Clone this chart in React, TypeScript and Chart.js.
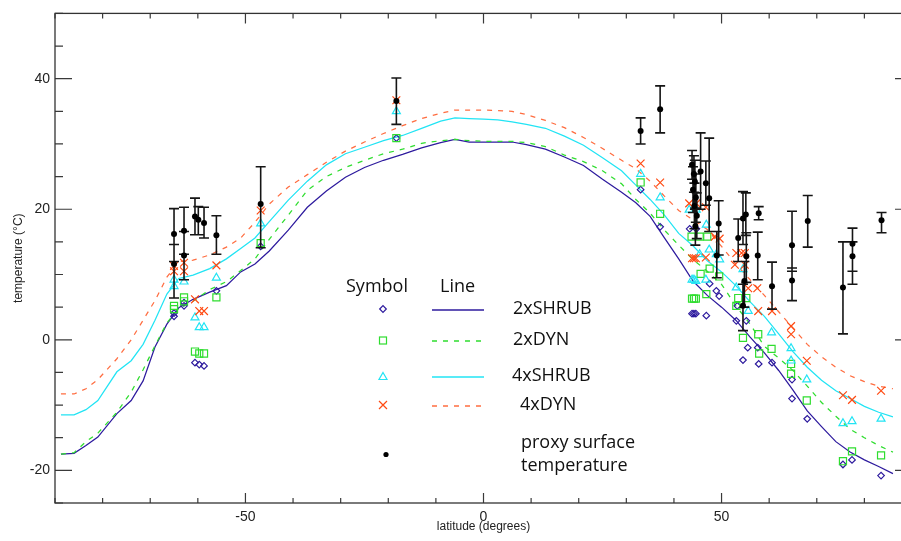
import React, { useEffect, useRef } from 'react';
import { Chart, registerables } from 'chart.js';

Chart.register(...registerables);

// ---------- data ----------
const lineLat = [-88.75, -86, -83.5, -81, -77, -74, -71.5, -69, -66.5, -64, -61, -57.5, -54, -51, -48, -45, -41, -37, -33, -29, -25, -21, -17, -13, -9, -6, -3, 0, 3, 6, 9, 13, 17, 21, 25, 29, 32, 35, 38, 41, 44, 47, 50, 53, 56, 59, 62, 65, 68, 71, 74, 77, 80, 83, 86];

const shrub2Line = [-17.5, -17.4, -16.2, -14.9, -11.3, -9.3, -6.3, -1.1, 2.4, 4.9, 6.2, 7.3, 8.3, 10.4, 11.6, 13.6, 16.8, 20.3, 22.8, 24.9, 26.4, 27.5, 28.4, 29.4, 30.2, 30.7, 30.3, 30.3, 30.3, 30.3, 29.9, 29.2, 28.0, 26.7, 24.6, 22.6, 21.0, 18.9, 15.6, 12.4, 9.0, 6.8, 5.0, 3.0, 0.4, -2.0, -4.7, -7.7, -10.9, -13.3, -15.6, -17.2, -18.4, -19.4, -20.5];
const dyn2Line = [-17.5, -17.3, -15.6, -14.3, -11.1, -8.0, -4.6, -0.9, 2.6, 4.8, 5.9, 7.7, 8.9, 10.6, 12.4, 15.4, 19.1, 22.9, 25.0, 26.4, 27.5, 28.5, 29.2, 30.1, 30.5, 30.7, 30.5, 30.4, 30.4, 30.4, 30.2, 29.6, 28.3, 27.3, 25.9, 23.9, 21.5, 19.4, 16.8, 14.5, 12.3, 10.5, 8.5, 5.2, 2.4, -1.0, -2.8, -4.7, -7.1, -9.6, -11.7, -13.7, -15.0, -16.2, -17.2];
const shrub4Line = [-11.5, -11.5, -10.7, -9.3, -4.9, -3.2, -0.7, 3.0, 7.0, 9.4, 9.9, 10.9, 12.4, 14.0, 15.6, 18.1, 21.4, 24.3, 26.8, 28.5, 29.5, 30.5, 31.3, 32.4, 33.5, 34.0, 33.9, 33.8, 33.7, 33.4, 33.0, 32.4, 31.2, 29.8, 27.9, 25.9, 23.7, 21.5, 19.1, 16.3, 14.4, 12.1, 10.4, 8.3, 5.8, 3.6, 0.9, -1.8, -4.2, -6.2, -7.8, -9.0, -10.2, -11.1, -11.8];
const dyn4Line = [-8.3, -8.3, -7.5, -6.1, -2.9, 0.0, 3.0, 6.0, 9.6, 12.0, 12.2, 13.0, 14.2, 15.6, 18.0, 20.8, 23.4, 25.3, 27.2, 28.9, 30.3, 31.6, 32.8, 33.9, 34.7, 35.2, 35.2, 35.2, 35.1, 35.0, 34.5, 33.6, 32.5, 31.0, 29.3, 27.5, 26.2, 24.3, 22.0, 19.8, 18.4, 16.9, 14.3, 11.6, 9.2, 6.8, 4.3, 1.8, -0.7, -2.6, -4.2, -5.5, -6.4, -7.1, -7.5];

// model values at proxy sites (symbols)
const shrub2Lat = [-65.0, -65.0, -62.9, -62.9, -60.6, -59.7, -58.7, -56.1, -46.8, -18.3, 33.0, 37.1, 43.3, 44.7, 43.8, 44.2, 44.6, 46.8, 47.5, 48.9, 49.5, 53.1, 55.2, 53.3, 54.5, 55.5, 57.6, 57.8, 60.6, 64.8, 64.8, 68.0, 75.5, 77.4, 83.5];
const shrub2T = [4.1, 3.6, 5.7, 5.2, -3.5, -3.8, -4.0, 7.5, 14.3, 30.9, 23.0, 17.3, 17.0, 17.0, 4.0, 4.0, 4.0, 3.7, 8.6, 7.5, 6.7, 2.9, 2.9, 5.2, -3.1, -1.2, -1.2, -3.7, -3.5, -6.1, -9.0, -12.1, -19.1, -18.4, -20.8];

const dyn2Lat = [-65.0, -65.0, -62.9, -62.9, -60.6, -59.7, -58.7, -56.1, -46.8, -18.3, 33.0, 37.1, 43.7, 45.4, 47.0, 43.8, 44.2, 44.6, 45.6, 47.5, 49.5, 46.8, 53.5, 53.1, 55.2, 54.5, 57.7, 57.9, 60.5, 64.6, 64.6, 67.9, 75.5, 77.4, 83.5];
const dyn2T = [5.2, 4.7, 6.5, 5.9, -1.8, -2.1, -2.1, 6.5, 14.8, 30.9, 24.1, 19.3, 15.8, 15.8, 15.8, 6.3, 6.3, 6.3, 10.1, 10.9, 9.7, 7.0, 6.4, 5.2, 6.4, 0.3, 0.85, -2.1, -1.4, -3.7, -5.2, -9.3, -18.6, -17.1, -17.7];

const shrub4Lat = [-65.0, -65.0, -62.9, -60.6, -59.7, -58.7, -56.1, -46.8, -18.3, 33.0, 37.1, 43.2, 44.7, 43.8, 44.2, 44.6, 45.4, 47.4, 48.9, 46.7, 46.8, 49.6, 54.5, 53.1, 55.6, 60.5, 64.6, 64.6, 67.9, 75.5, 77.4, 83.5];
const shrub4T = [9.2, 8.2, 8.9, 3.4, 1.9, 1.9, 9.5, 17.8, 35.0, 25.4, 21.8, 19.9, 19.9, 9.2, 9.2, 9.0, 13.1, 13.8, 13.1, 9.2, 17.6, 12.3, 10.8, 8.0, 4.4, 1.1, -1.3, -3.2, -6.1, -12.8, -12.5, -12.1];

const dyn4Lat = [-65.0, -65.0, -62.9, -62.9, -60.6, -59.7, -58.7, -56.1, -46.8, -18.3, 33.0, 37.1, 43.2, 44.7, 43.8, 44.2, 44.6, 46.7, 46.7, 48.6, 49.6, 53.1, 54.2, 54.9, 52.8, 54.9, 55.6, 57.5, 57.7, 60.6, 64.6, 64.6, 67.9, 75.5, 77.4, 83.5];
const dyn4T = [11.3, 10.5, 11.8, 10.5, 6.2, 4.4, 4.4, 11.4, 19.8, 36.7, 27.0, 24.1, 20.9, 20.9, 12.5, 12.5, 12.5, 20.3, 12.6, 15.8, 15.5, 13.3, 13.3, 13.3, 11.5, 11.5, 7.9, 7.9, 4.4, 4.4, 2.1, 0.85, -3.2, -8.5, -9.2, -7.8];

// proxy surface temperature with error range
const proxyLat = [-65.0, -65.0, -62.9, -62.9, -60.6, -59.9, -58.7, -56.1, -46.8, -18.3, 33.0, 37.1, 43.8, 44.2, 44.4, 44.0, 44.6, 44.3, 44.8, 44.5, 45.6, 46.7, 47.4, 49.4, 49.0, 53.5, 54.5, 55.1, 55.2, 54.8, 54.5, 57.6, 57.8, 60.6, 64.8, 64.8, 68.1, 75.5, 77.5, 77.5, 83.6];
const proxyT = [16.2, 11.6, 16.7, 12.9, 18.9, 18.4, 17.9, 16.0, 20.8, 36.6, 32.0, 35.3, 26.8, 25.4, 24.2, 23.0, 21.8, 20.5, 19.0, 17.4, 25.8, 24.0, 21.7, 17.8, 12.9, 15.6, 18.6, 19.2, 12.8, 9.0, 5.2, 12.9, 19.4, 8.2, 14.5, 9.1, 18.2, 8.0, 14.7, 12.8, 18.3];
const proxyLo = [12.0, 6.4, 13.1, 9.2, 16.1, 16.1, 15.6, 13.1, 14.1, 33.0, 30.0, 31.7, 24.6, 22.6, 20.0, 19.5, 18.0, 17.0, 15.5, 14.5, 20.0, 20.6, 16.6, 13.0, 9.5, 12.0, 14.6, 16.0, 8.8, 5.0, 1.4, 9.2, 18.4, 4.7, 10.5, 6.0, 14.2, 0.9, 10.5, 8.5, 16.4];
const proxyHi = [20.1, 14.6, 20.3, 16.6, 21.7, 20.4, 20.3, 19.0, 26.5, 40.1, 34.0, 38.9, 29.0, 28.2, 27.5, 26.5, 25.4, 24.0, 22.5, 20.2, 31.7, 27.4, 30.9, 21.3, 16.6, 18.5, 22.7, 22.5, 16.4, 12.0, 8.5, 16.5, 20.4, 11.9, 19.7, 11.0, 22.1, 15.0, 17.1, 15.0, 19.5];

const xTickLabels = [-50, 0, 50];
const yTickLabels = [-20, 0, 20, 40];
const legendLabels = ['2xSHRUB', '2xDYN', '4xSHRUB', '4xDYN'];

// ---------- styles ----------
const NAVY = '#2E1B9E';
const GREEN = '#2FDD2F';
const CYAN = '#22E4F4';
const ORANGE_LINE = '#FF6D40';
const ORANGE_MARK = '#FF4A12';
const TICK_FONT = 'Liberation Sans';
const LEGEND_FONT = 'Open Sans';

const toXY = (xs: number[], ys: number[]) => xs.map((x, i) => ({ x, y: ys[i] }));

const frameTicksPlugin = {
  id: 'frameTicks',
  afterDraw(chart: any) {
    const { ctx, chartArea: a, scales } = chart;
    const xs = scales.x;
    const ys = scales.y;
    ctx.save();
    ctx.strokeStyle = '#3a3a3a';
    ctx.lineWidth = 1.2;
    ctx.beginPath();
    for (let v = -25; v <= 50; v += 5) {
      const py = ys.getPixelForValue(v);
      const len = v % 20 === 0 ? 17 : 8;
      ctx.moveTo(a.left, py);
      ctx.lineTo(a.left + len, py);
      ctx.moveTo(a.right, py);
      ctx.lineTo(a.right - len, py);
    }
    for (let v = -90; v <= 90; v += 10) {
      const px = xs.getPixelForValue(v);
      const len = v % 50 === 0 ? 10 : 5;
      ctx.moveTo(px, a.bottom);
      ctx.lineTo(px, a.bottom - len);
      ctx.moveTo(px, a.top);
      ctx.lineTo(px, a.top + len);
    }
    ctx.stroke();
    ctx.strokeStyle = '#333';
    ctx.lineWidth = 1.3;
    ctx.strokeRect(a.left, a.top, a.right - a.left, a.bottom - a.top);
    ctx.restore();
  },
};

const errorBarPlugin = {
  id: 'errorBars',
  beforeDatasetDraw(chart: any, args: any) {
    if (args.index !== 0) return;
    const { ctx, scales } = chart;
    const xs = scales.x;
    const ys = scales.y;
    ctx.save();
    ctx.strokeStyle = '#151515';
    ctx.lineWidth = 1.6;
    ctx.beginPath();
    proxyLat.forEach((lat, i) => {
      const px = xs.getPixelForValue(lat);
      const top = ys.getPixelForValue(proxyHi[i]);
      const bot = ys.getPixelForValue(proxyLo[i]);
      ctx.moveTo(px, top);
      ctx.lineTo(px, bot);
      ctx.moveTo(px - 5, top);
      ctx.lineTo(px + 5, top);
      ctx.moveTo(px - 5, bot);
      ctx.lineTo(px + 5, bot);
    });
    ctx.stroke();
    ctx.restore();
  },
};

const legendPlugin = {
  id: 'symbolLegend',
  afterDraw(chart: any) {
    const ctx = chart.ctx;
    ctx.save();
    ctx.fillStyle = '#111';
    ctx.textBaseline = 'middle';
    ctx.textAlign = 'left';
    ctx.font = `18px "${LEGEND_FONT}"`;
    ctx.fillText('Symbol', 346, 287);
    ctx.fillText('Line', 440, 287);

    const rows = [309, 340, 376, 405];
    const labelX = [513, 513, 512, 520];
    const colors = [NAVY, GREEN, CYAN, ORANGE_LINE];
    const dashed = [false, true, false, true];
    rows.forEach((ry, i) => {
      ctx.fillStyle = '#111';
      ctx.fillText(legendLabels[i], labelX[i], ry);
      ctx.strokeStyle = colors[i];
      ctx.lineWidth = 1.3;
      ctx.setLineDash(dashed[i] ? [5, 6] : []);
      ctx.beginPath();
      ctx.moveTo(432, ry + 1);
      ctx.lineTo(484, ry + 1);
      ctx.stroke();
      ctx.setLineDash([]);
    });
    // symbols
    const sx = 383;
    ctx.lineWidth = 1.2;
    ctx.strokeStyle = NAVY;
    ctx.beginPath();
    ctx.moveTo(sx - 3.3, 309); ctx.lineTo(sx, 305.7); ctx.lineTo(sx + 3.3, 309); ctx.lineTo(sx, 312.3); ctx.closePath();
    ctx.stroke();
    ctx.strokeStyle = GREEN;
    ctx.strokeRect(sx - 3.5, 337, 7, 7);
    ctx.strokeStyle = CYAN;
    ctx.beginPath();
    ctx.moveTo(sx, 372.5); ctx.lineTo(sx + 4, 379.5); ctx.lineTo(sx - 4, 379.5); ctx.closePath();
    ctx.stroke();
    ctx.strokeStyle = ORANGE_MARK;
    ctx.beginPath();
    ctx.moveTo(sx - 4, 401); ctx.lineTo(sx + 4, 409);
    ctx.moveTo(sx + 4, 401); ctx.lineTo(sx - 4, 409);
    ctx.stroke();
    ctx.fillStyle = '#000';
    ctx.beginPath();
    ctx.arc(386, 454.5, 2.6, 0, Math.PI * 2);
    ctx.fill();
    ctx.fillStyle = '#111';
    ctx.fillText('proxy surface', 521, 443);
    ctx.fillText('temperature', 521, 466);
    ctx.restore();
  },
};

export default function App() {
  const canvasRef = useRef<HTMLCanvasElement | null>(null);

  useEffect(() => {
    if (!canvasRef.current) return;
    const lineDs = (label: string, data: number[], color: string, dash: number[]) => ({
      type: 'scatter' as const,
      label,
      data: toXY(lineLat, data),
      showLine: true,
      borderColor: color,
      backgroundColor: color,
      borderWidth: 1.25,
      borderDash: dash,
      pointRadius: 0,
      tension: 0,
    });
    const markDs = (label: string, lat: number[], t: number[], color: string, style: string, r: number) => ({
      type: 'scatter' as const,
      label,
      data: toXY(lat, t),
      showLine: false,
      pointStyle: style,
      pointRadius: r,
      pointBorderColor: color,
      pointBackgroundColor: 'rgba(0,0,0,0)',
      borderColor: color,
      backgroundColor: 'rgba(0,0,0,0)',
      pointBorderWidth: 1.2,
    });

    const chart = new Chart(canvasRef.current, {
      type: 'scatter',
      data: {
        datasets: [
          {
            type: 'scatter',
            label: 'proxy surface temperature',
            data: toXY(proxyLat, proxyT),
            pointStyle: 'circle',
            pointRadius: 3,
            pointBackgroundColor: '#000',
            pointBorderColor: '#000',
            pointBorderWidth: 0,
          } as any,
          markDs('4xDYN', dyn4Lat, dyn4T, ORANGE_MARK, 'crossRot', 5.5),
          markDs('4xSHRUB', shrub4Lat, shrub4T, CYAN, 'triangle', 4.6),
          markDs('2xDYN', dyn2Lat, dyn2T, GREEN, 'rect', 5),
          markDs('2xSHRUB', shrub2Lat, shrub2T, NAVY, 'rectRot', 3.3),
          lineDs('4xDYN line', dyn4Line, ORANGE_LINE, [5, 6]),
          lineDs('4xSHRUB line', shrub4Line, CYAN, []),
          lineDs('2xDYN line', dyn2Line, GREEN, [5, 6]),
          lineDs('2xSHRUB line', shrub2Line, NAVY, []),
        ] as any,
      },
      options: {
        animation: false,
        responsive: false,
        maintainAspectRatio: false,
        layout: { padding: { top: 11, right: 18, left: 0, bottom: 0 } },
        plugins: {
          legend: { display: false },
          tooltip: { enabled: false },
        },
        scales: {
          x: {
            type: 'linear',
            min: -90,
            max: 90,
            afterFit: (s: any) => { s.height = 38; },
            ticks: {
              stepSize: 10,
              autoSkip: false,
              maxRotation: 0,
              padding: 6,
              color: '#222',
              font: { family: TICK_FONT, size: 14 },
              callback: (v: any) => (xTickLabels.includes(Number(v)) ? String(v) : ''),
            },
            grid: { display: false, drawTicks: false },
            border: { display: false },
            title: {
              display: true,
              text: 'latitude (degrees)',
              color: '#222',
              font: { family: TICK_FONT, size: 12 },
              padding: { top: 0, bottom: 7 },
            },
          },
          y: {
            type: 'linear',
            min: -25,
            max: 50,
            afterFit: (s: any) => { s.width = 55; },
            ticks: {
              stepSize: 5,
              autoSkip: false,
              padding: 5,
              color: '#222',
              font: { family: TICK_FONT, size: 14 },
              callback: (v: any) => (yTickLabels.includes(Number(v)) ? String(v) : ''),
            },
            grid: { display: false, drawTicks: false },
            border: { display: false },
            title: {
              display: true,
              text: 'temperature (°C)',
              color: '#222',
              font: { family: TICK_FONT, size: 12 },
              padding: { top: 11, bottom: 0 },
            },
          },
        },
      } as any,
      plugins: [errorBarPlugin, frameTicksPlugin, legendPlugin],
    });
    return () => chart.destroy();
  }, []);

  return (
    <div style={{ position: 'fixed', left: 0, top: 0, width: 901, height: 541, overflow: 'hidden', background: '#fff' }}>
      <canvas ref={canvasRef} width={930} height={541} style={{ display: 'block', width: 930, height: 541 }} />
    </div>
  );
}
